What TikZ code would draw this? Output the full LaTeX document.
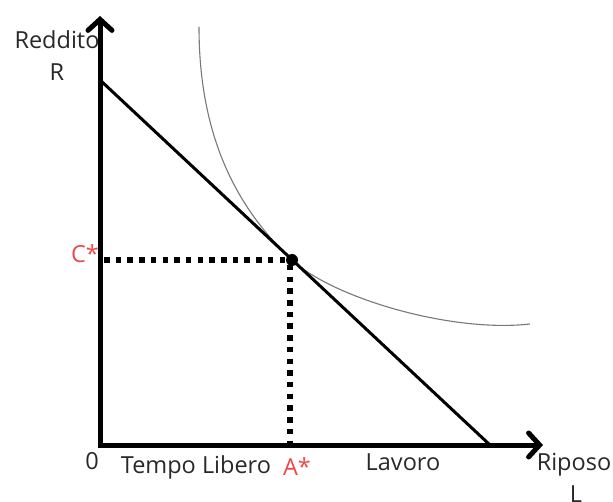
\documentclass[tikz,border=0pt]{standalone}
\usepackage{fontspec}
\setmainfont{Open Sans}
\usetikzlibrary{arrows.meta}
\definecolor{txt}{RGB}{40,40,40}
\definecolor{redlab}{RGB}{238,72,72}
\definecolor{curvegray}{RGB}{120,120,120}
\tikzset{
  axis/.style={line width=5pt, {Straight Barb[length=11pt,width=24pt,line cap=round]}-{Straight Barb[length=11pt,width=24pt,line cap=round]}, line join=miter},
  budget/.style={line width=3pt, line cap=butt},
  guide/.style={line width=5.5pt, dash pattern=on 5.5pt off 6.2pt},
  indiff/.style={line width=1.1pt, curvegray},
  lab/.style={text=txt, font=\fontsize{23.5}{28}\selectfont, inner sep=0pt},
  redl/.style={text=redlab, font=\fontsize{23.5}{28}\selectfont, inner sep=0pt}
}
\begin{document}
\begin{tikzpicture}[x=1pt,y=-1pt]
\useasboundingbox (0,0) rectangle (613,502);
\coordinate (O) at (100,445);
\coordinate (Ytop) at (100,16);
\coordinate (Xend) at (543,445);
\coordinate (B1) at (100,80);
\coordinate (B2) at (490,445);
\coordinate (E) at (292,260);
\coordinate (Cy) at (104,260);
\coordinate (Ax) at (290,445);
\coordinate (Cs) at (199,27);
\coordinate (Ce) at (530,324);
% indifference curve
\draw[indiff] (Cs) .. controls (199,137) and (237,208.5) .. (E)
              .. controls (332,297.4) and (450,333) .. (Ce);
% guides
\draw[guide] (Cy) -- (E);
\draw[guide] (290,265) -- (Ax);
% budget line
\draw[budget] (B1) -- (B2);
% axes
\draw[axis] (Ytop) -- (O) -- (Xend);
\fill (E) circle (6pt);
% labels
\node[lab, anchor=base] (reddito) at (57,49) {Reddito};
\node[lab, anchor=base] (rlab) at (57,81) {R};
\node[redl, anchor=base] (cstar) at (85,263) {C*};
\node[lab, anchor=base] (zero) at (92,469) {0};
\node[lab, anchor=base] (tempo) at (196,473) {Tempo Libero};
\node[redl, anchor=base] (astar) at (297,475) {A*};
\node[lab, anchor=base] (lavoro) at (403,470) {Lavoro};
\node[lab, anchor=base] (riposo) at (574,470) {Riposo};
\node[lab, anchor=base] (llab) at (576,502) {L};
\end{tikzpicture}
\end{document}
